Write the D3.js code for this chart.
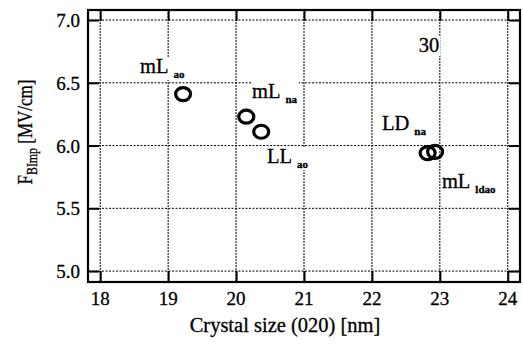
<html>
<head>
<script src="https://d3js.org/d3.v7.min.js"></script>
<style>
	body { margin: 0; background: #fff; }
	text { font-family: "Liberation Serif", "Times New Roman", serif; fill: #000; stroke: #000; stroke-width: 0.3; }
</style>
</head>
<body>
<div id="chart"></div>
<script>
	// data
	var crystalSize = [19.22, 20.15, 20.37, 22.82, 22.93];
	var fieldBImp = [6.41, 6.23, 6.11, 5.94, 5.95];
	var xTicks = [18, 19, 20, 21, 22, 23, 24];
	var yTicks = [5.0, 5.5, 6.0, 6.5, 7.0];
	// annotations: main text, subscript, anchor in data units
	var labelMain = ["mL", "mL", "LL", "LD", "mL", "30"];
	var labelSub = ["ao", "na", "ao", "na", "ldao", ""];
	var labelX = [18.585, 20.235, 20.455, 22.149, 23.03, 22.69];
	var labelY = [6.578, 6.379, 5.861, 6.124, 5.662, 6.746];

	var width = 523, height = 345;
	var pLeft = 88, pRight = 520, pTop = 10, pBottom = 282;

	var svg = d3.select("#chart").append("svg")
		.attr("width", width)
		.attr("height", height);

	var x = d3.scaleLinear().domain([17.82, 24.18]).range([pLeft, pRight]);
	var y = d3.scaleLinear().domain([4.913, 7.08]).range([pBottom, pTop]);

	// dotted grid
	svg.selectAll(".vgrid").data(xTicks).enter().append("line")
		.attr("x1", function(d){ return x(d); })
		.attr("x2", function(d){ return x(d); })
		.attr("y1", pTop).attr("y2", pBottom)
		.attr("stroke", "#000").attr("stroke-width", 1)
		.attr("stroke-dasharray", "2,1");
	svg.selectAll(".hgrid").data(yTicks).enter().append("line")
		.attr("y1", function(d){ return y(d); })
		.attr("y2", function(d){ return y(d); })
		.attr("x1", pLeft).attr("x2", pRight)
		.attr("stroke", "#000").attr("stroke-width", 1)
		.attr("stroke-dasharray", "2,1.5");

	// axes with inward ticks on all four sides
	var tick = 11;
	svg.append("g").attr("transform", "translate(0," + pBottom + ")")
		.call(d3.axisTop(x).tickValues(xTicks).tickSize(tick).tickFormat(""));
	svg.append("g").attr("transform", "translate(0," + pTop + ")")
		.call(d3.axisBottom(x).tickValues(xTicks).tickSize(tick).tickFormat(""));
	svg.append("g").attr("transform", "translate(" + pLeft + ",0)")
		.call(d3.axisRight(y).tickValues(yTicks).tickSize(tick).tickFormat(""));
	svg.append("g").attr("transform", "translate(" + pRight + ",0)")
		.call(d3.axisLeft(y).tickValues(yTicks).tickSize(tick).tickFormat(""));
	svg.selectAll(".domain").remove();
	svg.selectAll(".tick line").attr("stroke", "#000").attr("stroke-width", 2);

	svg.append("rect")
		.attr("x", pLeft).attr("y", pTop)
		.attr("width", pRight - pLeft).attr("height", pBottom - pTop)
		.attr("fill", "none").attr("stroke", "#000").attr("stroke-width", 2.2);

	// tick labels
	svg.selectAll(".xl").data(xTicks).enter().append("text")
		.attr("x", function(d){ return x(d); })
		.attr("y", pBottom + 23)
		.attr("text-anchor", "middle")
		.attr("font-size", 19)
		.text(function(d){ return d; });
	svg.selectAll(".yl").data(yTicks).enter().append("text")
		.attr("x", pLeft - 8)
		.attr("y", function(d){ return y(d) + 7; })
		.attr("text-anchor", "end")
		.attr("font-size", 19)
		.text(function(d){ return d.toFixed(1); });

	// annotations with white backing
	labelMain.forEach(function(m, i){
		var g = svg.append("g");
		var bg = g.append("rect").attr("fill", "#fff");
		var t = g.append("text")
			.attr("x", x(labelX[i]))
			.attr("y", y(labelY[i]))
			.attr("font-size", 20.5);
		t.append("tspan").text(m);
		if (labelSub[i]) {
			t.append("tspan").attr("dx", 5).attr("dy", 5)
				.attr("font-size", 11).attr("font-weight", "bold")
				.text(labelSub[i]);
		}
		var b = t.node().getBBox();
		bg.attr("x", b.x - 1).attr("y", b.y + 2)
			.attr("width", b.width + 2).attr("height", b.height - 2);
	});

	// points
	svg.selectAll(".pt").data(crystalSize).enter().append("ellipse")
		.attr("cx", function(d){ return x(d); })
		.attr("cy", function(d, i){ return y(fieldBImp[i]); })
		.attr("rx", 7.5).attr("ry", 6.5)
		.attr("fill", "none")
		.attr("stroke", "#000")
		.attr("stroke-width", 3.2);

	// axis titles
	svg.append("text")
		.attr("x", 285).attr("y", 332)
		.attr("text-anchor", "middle")
		.attr("font-size", 20.5)
		.text("Crystal size (020) [nm]");

	var yt = svg.append("text")
		.attr("transform", "translate(32,132) rotate(-90) scale(0.85,1)")
		.attr("text-anchor", "middle")
		.attr("font-size", 20);
	yt.append("tspan").text("F");
	yt.append("tspan").attr("dy", 5).attr("font-size", 14).text("BImp");
	yt.append("tspan").attr("dy", -5).text(" [MV/cm]");
</script>
</body>
</html>
